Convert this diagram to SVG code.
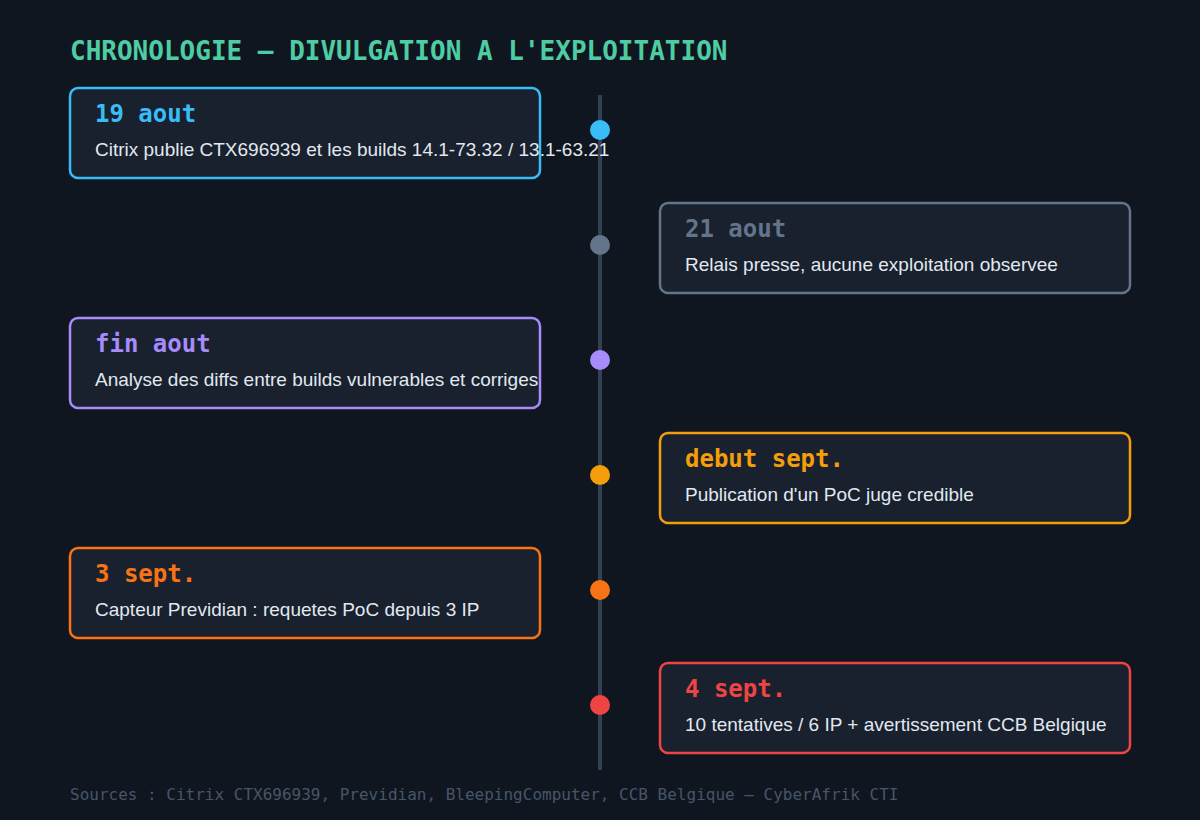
<svg xmlns="http://www.w3.org/2000/svg" width="1200" height="820" viewBox="0 0 1200 820">
<style>
.bg{fill:#10161f}
.box{fill:#18212d;stroke-width:2.5}
.date{font-family:"DejaVu Sans Mono","Liberation Mono",monospace;font-weight:bold;font-size:24px}
.desc{font-family:"Liberation Sans",Arial,sans-serif;font-size:19px;fill:#e2e8f0}
.title{font-family:"DejaVu Sans Mono","Liberation Mono",monospace;font-weight:bold;font-size:26px;fill:#4ecca3}
.foot{font-family:"DejaVu Sans Mono","Liberation Mono",monospace;font-size:16px;fill:#475569}
</style>
<rect class="bg" x="0" y="0" width="1200" height="820"/>
<text class="title" x="70" y="60">CHRONOLOGIE – DIVULGATION A L'EXPLOITATION</text>
<g id="connectors">
<line x1="600" y1="95" x2="600" y2="770" stroke="#334155" stroke-width="4"/>
</g>
<g id="e1">
<rect class="box" x="70" y="88" width="470" height="90" rx="8" stroke="#38bdf8"/>
<text class="date" x="95" y="122" fill="#38bdf8">19 aout</text>
<text class="desc" x="95" y="156">Citrix publie CTX696939 et les builds 14.1-73.32 / 13.1-63.21</text>
<circle cx="600" cy="130" r="10" fill="#38bdf8"/>
</g>
<g id="e2">
<rect class="box" x="660" y="203" width="470" height="90" rx="8" stroke="#64748b"/>
<text class="date" x="685" y="237" fill="#64748b">21 aout</text>
<text class="desc" x="685" y="271">Relais presse, aucune exploitation observee</text>
<circle cx="600" cy="245" r="10" fill="#64748b"/>
</g>
<g id="e3">
<rect class="box" x="70" y="318" width="470" height="90" rx="8" stroke="#a78bfa"/>
<text class="date" x="95" y="352" fill="#a78bfa">fin aout</text>
<text class="desc" x="95" y="386">Analyse des diffs entre builds vulnerables et corriges</text>
<circle cx="600" cy="360" r="10" fill="#a78bfa"/>
</g>
<g id="e4">
<rect class="box" x="660" y="433" width="470" height="90" rx="8" stroke="#f59e0b"/>
<text class="date" x="685" y="467" fill="#f59e0b">debut sept.</text>
<text class="desc" x="685" y="501">Publication d'un PoC juge credible</text>
<circle cx="600" cy="475" r="10" fill="#f59e0b"/>
</g>
<g id="e5">
<rect class="box" x="70" y="548" width="470" height="90" rx="8" stroke="#f97316"/>
<text class="date" x="95" y="582" fill="#f97316">3 sept.</text>
<text class="desc" x="95" y="616">Capteur Previdian : requetes PoC depuis 3 IP</text>
<circle cx="600" cy="590" r="10" fill="#f97316"/>
</g>
<g id="e6">
<rect class="box" x="660" y="663" width="470" height="90" rx="8" stroke="#ef4444"/>
<text class="date" x="685" y="697" fill="#ef4444">4 sept.</text>
<text class="desc" x="685" y="731">10 tentatives / 6 IP + avertissement CCB Belgique</text>
<circle cx="600" cy="705" r="10" fill="#ef4444"/>
</g>
<text class="foot" x="70" y="800">Sources : Citrix CTX696939, Previdian, BleepingComputer, CCB Belgique — CyberAfrik CTI</text>
</svg>
